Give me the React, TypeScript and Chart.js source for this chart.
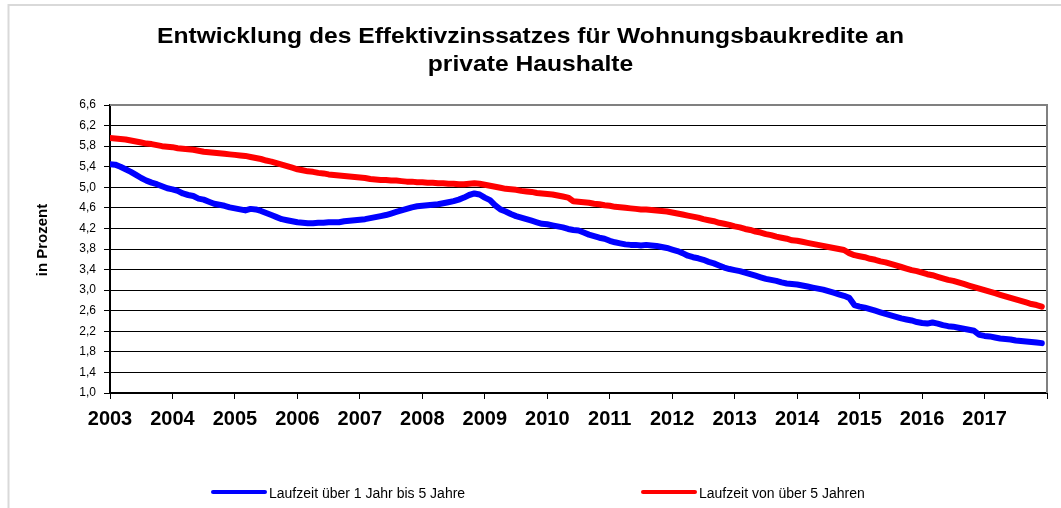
import React, { useEffect, useRef } from 'react';
import { Chart, registerables } from 'chart.js';

Chart.register(...registerables);

const FONT = '"Liberation Sans", Arial, sans-serif';

const titleLines = ['Entwicklung des Effektivzinssatzes für Wohnungsbaukredite an', 'private Haushalte'];
const yAxisTitle = 'in Prozent';
const seriesNames = ['Laufzeit über 1 Jahr bis 5 Jahre', 'Laufzeit von über 5 Jahren'];
const seriesColors = ['#0000ff', '#ff0000'];

const yearLabels = ['2003', '2004', '2005', '2006', '2007', '2008', '2009', '2010', '2011', '2012', '2013', '2014', '2015', '2016', '2017'];
const monthsPerYear = 12;

const yTickValues = [1.0, 1.4, 1.8, 2.2, 2.6, 3.0, 3.4, 3.8, 4.2, 4.6, 5.0, 5.4, 5.8, 6.2, 6.6];

// Monthly effective rates, Jan 2003 .. Dec 2017
const shortTermRates = [
  5.45, 5.44, 5.40, 5.35, 5.30, 5.24, 5.18, 5.13, 5.09, 5.06, 5.02, 4.98,
  4.96, 4.93, 4.88, 4.85, 4.83, 4.78, 4.76, 4.72, 4.68, 4.66, 4.64, 4.61,
  4.59, 4.57, 4.55, 4.58, 4.57, 4.54, 4.50, 4.46, 4.42, 4.38, 4.36, 4.34,
  4.32, 4.31, 4.30, 4.30, 4.31, 4.31, 4.32, 4.32, 4.32, 4.34, 4.35, 4.36,
  4.37, 4.38, 4.40, 4.42, 4.44, 4.46, 4.49, 4.52, 4.55, 4.58, 4.61, 4.63,
  4.64, 4.65, 4.66, 4.67, 4.69, 4.71, 4.73, 4.76, 4.80, 4.85, 4.88, 4.86,
  4.80, 4.75, 4.65, 4.57, 4.53, 4.48, 4.44, 4.41, 4.38, 4.35, 4.32, 4.29,
  4.28, 4.26, 4.24, 4.22, 4.19, 4.17, 4.16, 4.12, 4.08, 4.05, 4.02, 4.00,
  3.96, 3.93, 3.91, 3.89, 3.88, 3.88, 3.87, 3.88, 3.87, 3.86, 3.84, 3.82,
  3.79, 3.76, 3.72, 3.67, 3.64, 3.62, 3.59, 3.55, 3.52, 3.48, 3.44, 3.41,
  3.39, 3.37, 3.34, 3.31, 3.28, 3.25, 3.22, 3.20, 3.18, 3.15, 3.13, 3.12,
  3.11, 3.09, 3.07, 3.05, 3.03, 3.01, 2.98, 2.95, 2.92, 2.89, 2.85, 2.71,
  2.68, 2.66, 2.63, 2.60, 2.57, 2.54, 2.51, 2.48, 2.45, 2.43, 2.41, 2.38,
  2.36, 2.35, 2.37, 2.35, 2.32, 2.30, 2.29, 2.27, 2.25, 2.23, 2.21, 2.13,
  2.11, 2.10, 2.08, 2.06, 2.05, 2.04, 2.02, 2.01, 2.00, 1.99, 1.98, 1.97,
];

const longTermRates = [
  5.96, 5.95, 5.94, 5.93, 5.91, 5.89, 5.87, 5.85, 5.84, 5.82, 5.80, 5.79,
  5.78, 5.76, 5.75, 5.74, 5.73, 5.71, 5.69, 5.68, 5.67, 5.66, 5.65, 5.64,
  5.63, 5.62, 5.61, 5.59, 5.57, 5.55, 5.52, 5.50, 5.47, 5.44, 5.41, 5.38,
  5.35, 5.33, 5.31, 5.30, 5.28, 5.27, 5.25, 5.24, 5.23, 5.22, 5.21, 5.20,
  5.19, 5.18, 5.16, 5.15, 5.14, 5.14, 5.13, 5.13, 5.12, 5.11, 5.11, 5.10,
  5.10, 5.09, 5.09, 5.08, 5.08, 5.07, 5.07, 5.06, 5.06, 5.07, 5.08, 5.07,
  5.05, 5.03, 5.01, 4.99, 4.97, 4.96, 4.95, 4.93, 4.92, 4.91, 4.89, 4.88,
  4.87, 4.86, 4.84, 4.82, 4.80, 4.73, 4.72, 4.71, 4.70, 4.68, 4.67, 4.65,
  4.64, 4.62, 4.61, 4.60, 4.59, 4.58, 4.57, 4.57, 4.56, 4.55, 4.54, 4.53,
  4.51, 4.49, 4.47, 4.45, 4.43, 4.41, 4.38, 4.36, 4.34, 4.31, 4.29, 4.27,
  4.24, 4.22, 4.19, 4.17, 4.14, 4.12, 4.09, 4.07, 4.04, 4.02, 4.00, 3.97,
  3.96, 3.94, 3.92, 3.90, 3.88, 3.86, 3.84, 3.82, 3.80, 3.78, 3.72, 3.68,
  3.66, 3.64, 3.61, 3.59, 3.56, 3.54, 3.51, 3.48, 3.45, 3.42, 3.39, 3.37,
  3.34, 3.31, 3.29, 3.26, 3.23, 3.20, 3.18, 3.15, 3.12, 3.09, 3.06, 3.03,
  3.00, 2.97, 2.94, 2.91, 2.88, 2.85, 2.82, 2.79, 2.76, 2.73, 2.71, 2.68,
];

const decorPlugin = {
  id: 'decor',
  beforeDraw(chart: any) {
    const ctx = chart.ctx;
    ctx.save();
    ctx.fillStyle = '#ffffff';
    ctx.fillRect(0, 0, chart.width, chart.height);
    ctx.strokeStyle = '#d9d9d9';
    ctx.lineWidth = 2;
    ctx.strokeRect(8.5, 5, chart.width + 10, chart.height + 10);
    ctx.restore();
  },
  beforeDatasetsDraw(chart: any) {
    const { ctx, chartArea } = chart;
    ctx.save();
    ctx.strokeStyle = '#808080';
    ctx.lineWidth = 2;
    ctx.beginPath();
    ctx.moveTo(chartArea.left, chartArea.top);
    ctx.lineTo(chartArea.right, chartArea.top);
    ctx.lineTo(chartArea.right, chartArea.bottom);
    ctx.stroke();
    ctx.restore();
  },
  afterDraw(chart: any) {
    const { ctx } = chart;
    ctx.save();
    // title (slightly wide bold face as in the original rendering)
    ctx.fillStyle = '#000000';
    ctx.font = `bold 22px ${FONT}`;
    ctx.textAlign = 'center';
    ctx.textBaseline = 'alphabetic';
    [43, 71].forEach((y, i) => {
      ctx.save();
      ctx.translate(530.5, y);
      ctx.scale(1.12, 1);
      ctx.fillText(titleLines[i], 0, 0);
      ctx.restore();
    });
    // y axis title
    ctx.save();
    ctx.translate(47, 240);
    ctx.rotate(-Math.PI / 2);
    ctx.font = `bold 15px ${FONT}`;
    ctx.textAlign = 'center';
    ctx.fillText(yAxisTitle, 0, 0);
    ctx.restore();
    // legend
    const items = [
      { x0: 213, x1: 265, tx: 269 },
      { x0: 643, x1: 695, tx: 699 },
    ];
    ctx.font = `14px ${FONT}`;
    ctx.textAlign = 'left';
    items.forEach((it, i) => {
      ctx.strokeStyle = seriesColors[i];
      ctx.lineWidth = 4;
      ctx.lineCap = 'round';
      ctx.beginPath();
      ctx.moveTo(it.x0, 492);
      ctx.lineTo(it.x1, 492);
      ctx.stroke();
      ctx.fillStyle = '#000000';
      ctx.fillText(seriesNames[i], it.tx, 498);
    });
    ctx.restore();
  },
};

export default function App() {
  const canvasRef = useRef<HTMLCanvasElement | null>(null);

  useEffect(() => {
    const canvas = canvasRef.current;
    if (!canvas) return;
    const toPoints = (arr: number[]) => arr.map((v, i) => ({ x: i, y: v }));
    const xTickValues = [...yearLabels.map((_, i) => i * monthsPerYear), yearLabels.length * monthsPerYear];

    const chart = new Chart(canvas, {
      type: 'line',
      data: {
        datasets: [
          {
            label: seriesNames[0],
            data: toPoints(shortTermRates),
            borderColor: seriesColors[0],
            backgroundColor: seriesColors[0],
            borderWidth: 6,
            pointRadius: 0,
            borderCapStyle: 'round',
            borderJoinStyle: 'round',
            tension: 0,
          },
          {
            label: seriesNames[1],
            data: toPoints(longTermRates),
            borderColor: seriesColors[1],
            backgroundColor: seriesColors[1],
            borderWidth: 6,
            pointRadius: 0,
            borderCapStyle: 'round',
            borderJoinStyle: 'round',
            tension: 0,
          },
        ],
      },
      options: {
        responsive: false,
        animation: false,
        devicePixelRatio: 1,
        layout: { padding: { left: 0, right: 14, top: 105, bottom: 0 } },
        plugins: {
          legend: { display: false },
          title: { display: false },
          tooltip: { enabled: false },
        },
        scales: {
          x: {
            type: 'linear',
            min: 0,
            max: yearLabels.length * monthsPerYear,
            afterFit: (scale: any) => {
              scale.height = 115;
            },
            afterBuildTicks: (scale: any) => {
              scale.ticks = xTickValues.map((v) => ({ value: v }));
            },
            ticks: {
              autoSkip: false,
              maxRotation: 0,
              padding: 8,
              color: '#000000',
              font: { family: FONT, size: 20, weight: 'bold' },
              callback: (value: any) => {
                const idx = Math.round(Number(value) / monthsPerYear);
                return idx < yearLabels.length ? yearLabels[idx] : '';
              },
            },
            grid: {
              drawOnChartArea: false,
              drawTicks: true,
              tickLength: 6,
              color: '#000000',
              lineWidth: 1,
            },
            border: { display: true, color: '#000000', width: 2 },
          },
          y: {
            type: 'linear',
            min: yTickValues[0],
            max: yTickValues[yTickValues.length - 1],
            afterFit: (scale: any) => {
              scale.width = 110;
            },
            afterBuildTicks: (scale: any) => {
              scale.ticks = yTickValues.map((v) => ({ value: v }));
            },
            ticks: {
              padding: 8,
              color: '#000000',
              font: { family: FONT, size: 12 },
              callback: (value: any) => Number(value).toFixed(1).replace('.', ','),
            },
            grid: {
              drawOnChartArea: true,
              drawTicks: true,
              tickLength: 6,
              color: '#000000',
              lineWidth: 1,
            },
            border: { display: true, color: '#000000', width: 2 },
          },
        },
      },
      plugins: [decorPlugin],
    } as any);

    return () => {
      chart.destroy();
    };
  }, []);

  return (
    <div style={{ position: 'absolute', left: 0, top: 0, width: 1061, height: 508, background: '#ffffff' }}>
      <canvas ref={canvasRef} width={1061} height={508} style={{ display: 'block', width: 1061, height: 508 }} />
    </div>
  );
}
